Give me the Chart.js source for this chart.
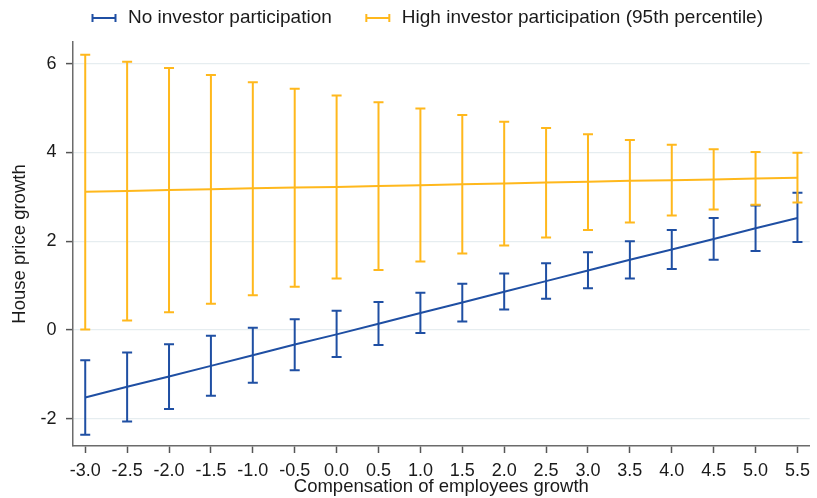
<!DOCTYPE html>
<html>
<head>
<meta charset="utf-8">
<title>House price growth vs compensation growth</title>
<script src="https://cdn.jsdelivr.net/npm/chart.js@4.4.1/dist/chart.umd.min.js"></script>
<style>
  html, body { margin: 0; padding: 0; background: #ffffff; }
  #wrap { width: 817px; height: 498px; position: relative; }
</style>
</head>
<body>
<div id="wrap"><canvas id="chart" width="817" height="498"></canvas></div>
<script>
// Compensation of employees growth (x positions of the marginal effects)
const xValues = [-3.0, -2.5, -2.0, -1.5, -1.0, -0.5, 0.0, 0.5, 1.0, 1.5, 2.0, 2.5, 3.0, 3.5, 4.0, 4.5, 5.0, 5.5];
const xTickLabels = ['-3.0', '-2.5', '-2.0', '-1.5', '-1.0', '-0.5', '0.0', '0.5', '1.0', '1.5', '2.0', '2.5', '3.0', '3.5', '4.0', '4.5', '5.0', '5.5'];

const yTickValues = [-2, 0, 2, 4, 6];
const yTickLabels = ['-2', '0', '2', '4', '6'];

const seriesNames = ['No investor participation', 'High investor participation (95th percentile)'];

// No investor participation: point estimate and confidence interval
const noInvMid  = [-1.52, -1.28, -1.05, -0.81, -0.57, -0.33, -0.10, 0.14, 0.38, 0.62, 0.86, 1.10, 1.34, 1.58, 1.81, 2.05, 2.29, 2.52];
const noInvLow  = [-2.36, -2.06, -1.78, -1.48, -1.19, -0.91, -0.61, -0.34, -0.07, 0.19, 0.46, 0.70, 0.94, 1.16, 1.37, 1.58, 1.78, 1.98];
const noInvHigh = [-0.68, -0.51, -0.32, -0.13, 0.05, 0.24, 0.43, 0.63, 0.84, 1.04, 1.27, 1.50, 1.75, 2.00, 2.25, 2.52, 2.80, 3.09];

// High investor participation (95th percentile)
const highInvMid  = [3.11, 3.13, 3.15, 3.17, 3.19, 3.21, 3.22, 3.24, 3.26, 3.28, 3.30, 3.32, 3.34, 3.36, 3.37, 3.39, 3.41, 3.43];
const highInvLow  = [0.01, 0.21, 0.40, 0.59, 0.78, 0.97, 1.16, 1.35, 1.54, 1.72, 1.90, 2.08, 2.25, 2.42, 2.58, 2.71, 2.82, 2.87];
const highInvHigh = [6.20, 6.04, 5.90, 5.74, 5.58, 5.43, 5.28, 5.13, 4.99, 4.84, 4.69, 4.55, 4.41, 4.28, 4.17, 4.07, 4.01, 3.99];

const BLUE = '#1f4fa3';
const YELLOW = '#ffb81c';
const FONT = "'Liberation Sans', Arial, Helvetica, sans-serif";
const TEXT = '#1a1a1a';

const toPoints = (ys) => xValues.map((x, i) => ({ x: x, y: ys[i] }));

// Vertical confidence-interval bars with end caps, drawn under the lines
const errorBarPlugin = {
  id: 'errorBars',
  beforeDatasetsDraw(chart) {
    const { ctx, scales } = chart;
    const xs = scales.x, ys = scales.y;
    const capHalf = 5;
    const order = [0, 1];
    order.forEach((i) => {
      const ds = chart.data.datasets[i];
      if (!chart.isDatasetVisible(i)) return;
      ctx.save();
      ctx.strokeStyle = ds.borderColor;
      ctx.lineWidth = 2;
      ctx.lineCap = 'butt';
      ds.data.forEach((pt, j) => {
        const px = xs.getPixelForValue(pt.x);
        const pl = ys.getPixelForValue(ds.errLow[j]);
        const ph = ys.getPixelForValue(ds.errHigh[j]);
        ctx.beginPath();
        ctx.moveTo(px, pl);
        ctx.lineTo(px, ph);
        ctx.moveTo(px - capHalf, pl);
        ctx.lineTo(px + capHalf, pl);
        ctx.moveTo(px - capHalf, ph);
        ctx.lineTo(px + capHalf, ph);
        ctx.stroke();
      });
      ctx.restore();
    });
  }
};

// Legend row with capped-range symbols
const rangeLegendPlugin = {
  id: 'rangeLegend',
  afterDraw(chart) {
    const ctx = chart.ctx;
    const fontSize = 19;
    const symW = 23;
    const symGap = 12.5;
    const itemGap = 34.5;
    const cy = 18;
    ctx.save();
    ctx.font = fontSize + 'px ' + FONT;
    ctx.textBaseline = 'alphabetic';
    ctx.textAlign = 'left';
    let x = 92.5;
    chart.data.datasets.forEach((ds) => {
      ctx.strokeStyle = ds.borderColor;
      ctx.lineWidth = 2;
      ctx.beginPath();
      ctx.moveTo(x, cy);
      ctx.lineTo(x + symW, cy);
      ctx.moveTo(x, cy - 4);
      ctx.lineTo(x, cy + 4);
      ctx.moveTo(x + symW, cy - 4);
      ctx.lineTo(x + symW, cy + 4);
      ctx.stroke();
      ctx.fillStyle = TEXT;
      const tx = x + symW + symGap;
      ctx.fillText(ds.label, tx, 23);
      x = tx + ctx.measureText(ds.label).width + itemGap;
    });
    ctx.restore();
  }
};

new Chart(document.getElementById('chart'), {
  type: 'line',
  data: {
    datasets: [
      {
        label: seriesNames[0],
        data: toPoints(noInvMid),
        errLow: noInvLow,
        errHigh: noInvHigh,
        borderColor: BLUE,
        backgroundColor: BLUE,
        borderWidth: 2,
        pointRadius: 0,
        tension: 0,
        fill: false
      },
      {
        label: seriesNames[1],
        data: toPoints(highInvMid),
        errLow: highInvLow,
        errHigh: highInvHigh,
        borderColor: YELLOW,
        backgroundColor: YELLOW,
        borderWidth: 2,
        pointRadius: 0,
        tension: 0,
        fill: false
      }
    ]
  },
  options: {
    responsive: false,
    animation: false,
    devicePixelRatio: 1,
    layout: { padding: { top: 42, right: 2, left: 0, bottom: 0 } },
    plugins: {
      legend: { display: false },
      tooltip: { enabled: false }
    },
    scales: {
      x: {
        type: 'linear',
        min: -3.146,
        max: 5.646,
        afterBuildTicks: (scale) => { scale.ticks = xValues.map((v) => ({ value: v })); },
        afterFit: (scale) => { scale.height = 52; },
        ticks: {
          autoSkip: false,
          maxRotation: 0,
          padding: 7,
          color: TEXT,
          font: { family: FONT, size: 18 },
          callback: (value, index) => xTickLabels[index]
        },
        grid: {
          drawOnChartArea: false,
          drawTicks: true,
          tickLength: 7,
          tickColor: '#555555',
          tickWidth: 1.5
        },
        border: { display: true, color: '#6b6b6b', width: 1.5 },
        title: {
          display: true,
          text: 'Compensation of employees growth',
          color: TEXT,
          font: { family: FONT, size: 18.5 },
          padding: { top: 0, bottom: 0 }
        }
      },
      y: {
        type: 'linear',
        min: -2.614,
        max: 6.485,
        afterBuildTicks: (scale) => { scale.ticks = yTickValues.map((v) => ({ value: v })); },
        afterFit: (scale) => { scale.width = 73; },
        ticks: {
          padding: 9.5,
          color: TEXT,
          font: { family: FONT, size: 18 },
          callback: (value, index) => yTickLabels[index]
        },
        grid: {
          color: '#e6edf0',
          lineWidth: 1.2,
          drawTicks: true,
          tickLength: 7,
          tickColor: '#555555',
          tickWidth: 1.5
        },
        border: { display: true, color: '#6b6b6b', width: 1.5 },
        title: {
          display: true,
          text: 'House price growth',
          color: TEXT,
          font: { family: FONT, size: 18.5 },
          padding: { top: 8.5, bottom: 0 }
        }
      }
    }
  },
  plugins: [errorBarPlugin, rangeLegendPlugin]
});
</script>
</body>
</html>
